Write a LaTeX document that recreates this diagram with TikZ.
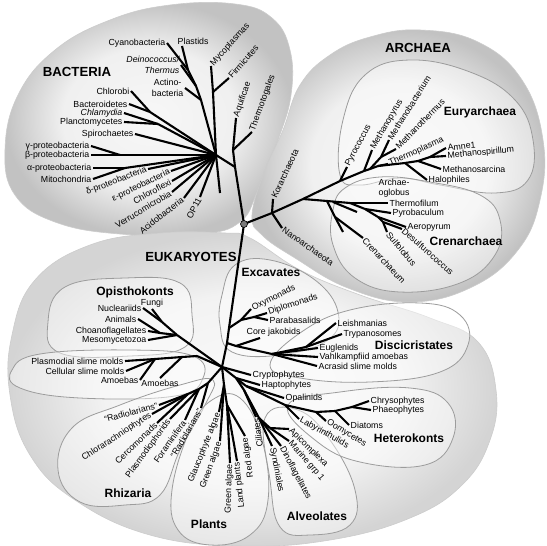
\documentclass[tikz,border=0pt]{standalone}
\usepackage{fontspec}
\setmainfont{Liberation Sans}
\usetikzlibrary{positioning}
\definecolor{Rim}{HTML}{9C9C9C}
\definecolor{Dot}{HTML}{7A7A7A}
\pgfdeclareradialshading{domshade}{\pgfpoint{0bp}{0bp}}{color(0bp)=(black!3); color(15bp)=(black!6); color(25bp)=(black!24); color(50bp)=(black!24)}
\pgfdeclareradialshading{eukshade}{\pgfpoint{0bp}{0bp}}{color(0bp)=(black!2); color(15bp)=(black!5); color(25bp)=(black!17); color(50bp)=(black!17)}
\tikzset{
  lbl/.style={font=\fontsize{8.8}{10.5}\selectfont,inner sep=1.5pt},
  ilbl/.style={lbl,font=\fontsize{8.8}{10.5}\selectfont\itshape},
  grp/.style={font=\fontsize{12}{13}\selectfont\bfseries,inner sep=0pt},
  dom/.style={font=\fontsize{13.2}{14}\selectfont\bfseries,inner sep=0pt},
  branch/.style={line width=2.1pt,line join=round},
  blob/.style={draw=black!20,line width=0.6pt,shading=domshade},
  subblob/.style={draw=Rim,line width=0.8pt,fill=white,fill opacity=0.45},
}
\begin{document}
\begin{tikzpicture}[x=1pt,y=-1pt]
  \useasboundingbox (0,0) rectangle (546,546);
  \fill[white] (0,0) rectangle (546,546);
  \shadedraw[blob] plot[smooth cycle,tension=0.7] coordinates {(5,150) (18,95) (55,50) (110,20) (170,5) (235,4) (272,18) (290,50) (291,95) (278,140) (258,190) (240,222) (200,234) (120,234) (55,222) (15,195)};
  \shadedraw[blob] plot[smooth cycle,tension=0.7] coordinates {(252,215) (265,170) (283,130) (300,85) (330,55) (370,37) (420,30) (478,42) (522,80) (543,140) (540,200) (518,250) (472,287) (410,302) (348,288) (295,258) (262,235)};
  \shadedraw[blob,shading=eukshade] plot[smooth cycle,tension=0.7] coordinates {(12,335) (35,280) (90,245) (160,233) (225,233) (250,238) (300,270) (360,295) (430,318) (478,342) (496,390) (490,440) (462,485) (410,518) (330,540) (240,546) (150,535) (75,500) (30,455) (10,395)};
  \foreach \pts in {
    {(340,175) (343,120) (365,75) (410,60) (470,72) (515,100) (533,140) (528,180) (495,193) (440,185) (400,178) (360,185)},
    {(333,210) (345,188) (380,177) (430,182) (480,195) (500,220) (495,255) (460,283) (400,292) (355,278) (333,245)},
    {(222,295) (235,265) (270,260) (315,280) (338,312) (328,340) (280,355) (232,352) (220,325)},
    {(270,365) (300,333) (350,310) (420,303) (460,315) (468,345) (440,372) (370,382) (300,378)},
    {(48,322) (65,287) (125,278) (180,283) (192,315) (185,347) (130,356) (60,353)},
    {(12,370) (40,354) (130,350) (193,356) (203,378) (175,396) (80,398) (20,388)},
    {(58,470) (72,428) (120,405) (180,385) (213,380) (205,405) (180,450) (160,495) (125,505) (80,502)},
    {(212,400) (240,398) (262,440) (268,500) (250,535) (210,545) (178,530) (172,490) (190,430)},
    {(265,418) (298,410) (330,440) (355,490) (350,525) (310,535) (280,527) (270,480)},
    {(288,405) (340,392) (410,388) (448,403) (453,438) (425,465) (360,462) (315,440)}}
    \draw[subblob] plot[smooth cycle,tension=0.7] coordinates \pts;

  \node[dom] at (77,72) {BACTERIA};
  \node[dom] at (418,48) {ARCHAEA};
  \node[dom] at (191,257) {EUKARYOTES};
  \foreach \px/\py/\txt in {480/112/Euryarchaea, 466/241/Crenarchaea, 271/272/Excavates,
    135/292/Opisthokonts, 414/345/Discicristates, 409/438/Heterokonts, 128/493/Rhizaria,
    209/524/Plants, 317/516/Alveolates}
    \node[grp] at (\px,\py) {\txt};

  \foreach \nm/\px/\py/\anc/\rot/\txt in {
    cyano/167/43/east/0/Cyanobacteria, myco/211/66/west/48/Mycoplasmas, firm/229/78/west/49/Firmicutes,
    aqui/236/118/west/71/Aquificae, thermot/252/132/west/70/Thermotogales,
    chlorobi/131/91/east/0/Chlorobi, bactero/129/104/east/0/Bacteroidetes,
    plancto/124/122/east/0/Planctomycetes, spiro/135/134/east/0/Spirochaetes,
    gamma/91/146/east/0/γ-proteobacteria, beta/91/155/east/0/β-proteobacteria,
    alpha/93/168/east/0/α-proteobacteria, mito/93/179/east/0/Mitochondria,
    delta/148/169/east/21/δ-proteobacteria, eps/171/171/east/26/ε-proteobacteria,
    chlflex/172/181/east/28/Chloroflexi, verru/172/192/east/31/Verrucomicrobia,
    acido/184/198/east/38/Acidobacteria, op/200/197/east/62/OP11,
    kor/273/199/west/65/Korarchaeota, nano/282/228/west/-35/Nanoarchaeota,
    pyro/347/167/west/62/Pyrococcus, metpyr/372/150/west/60/Methanopyrus,
    metbac/389/140/west/58/Methanobacterium, metthe/396/149/west/46/Methanothermus,
    thermop/388/164/west/24/Thermoplasma, amne/446/148/west/6/Amne1,
    metspi/446/156/west/5/Methanospirillum, metsar/441/169/west/0/Methanosarcina,
    halo/427/180/west/0/Halophiles, thermof/388/203/west/0/Thermofilum,
    pyrob/391/213/west/0/Pyrobaculum, aero/406/227/west/0/Aeropyrum,
    desulfo/402/229/west/-41/Desulfurococcus, sulfo/387/232/west/-50/Sulfolobus,
    cren/363/238/west/-47/Crenarchaeum,
    oxy/251/309/west/26/Oxymonads, diplo/267/313/west/18/Diplomonads, para/268/320/west/0/Parabasalids,
    leish/336/323/west/0/Leishmanias, trypa/342/334/west/0/Trypanosomes, eugl/318/348/west/0/Euglenids,
    vahl/318/357/west/0/Vahlkampfiid amoebas, acras/317/366/west/0/Acrasid slime molds,
    nucl/143/308/east/0/Nucleariids, anim/138/319/east/0/Animals,
    choano/148/331/east/0/Choanoflagellates, meso/148/340/east/0/Mesomycetozoa,
    plasmo/125/361/east/0/Plasmodial slime molds, cellu/126/371/east/0/Cellular slime molds,
    amoebL/140/380/east/0/Amoebas,
    chlorar/152/414/east/33/Chlorarachniophytes, cerco/157/423/east/44/Cercomonads,
    plasmod/170/419/east/54/Plasmodiophorids, foram/185/420/east/55/Foraminifera,
    glauco/219/412/east/68/Glaucophyte algae, greenA/220/441/east/70/Green algae,
    greenB/230/463/east/88/Green algae, land/237/461/east/96/Land plants,
    red/245/436/east/98/Red algae, cili/256/417/east/97/Ciliates,
    synd/272/446/west/-79/Syndiniales, dino/281/446/west/-62/Dinoflagellates,
    marine/289/441/west/-49/Marine grp 1, apic/289/429/west/-44/Apicomplexa,
    laby/299/419/west/-29/Labyrinthulids, oomy/326/421/west/-31/Oomycetes,
    diat/349/425/west/0/Diatoms, chryso/369/401/west/0/Chrysophytes, phaeo/371/410/west/0/Phaeophytes,
    crypto/251/375/west/0/Cryptophytes, hapto/260/385/west/0/Haptophytes, opal/284/398/west/0/Opalinids}
    \node[lbl,anchor=\anc,rotate=\rot] (\nm) at (\px,\py) {\txt};
  \node[lbl,anchor=south west] (plast) at (176,46) {Plastids};
  \node[ilbl,anchor=east,align=right] (dein) at (181,65) {Deinococcus/\\Thermus};
  \node[lbl,anchor=east,align=center] (actino) at (185,88) {Actino-\\bacteria};
  \node[ilbl,anchor=east] (chlamy) at (124,113) {Chlamydia};
  \node[lbl,anchor=north west,align=left] (archaeo) at (377,177) {Archae-\\oglobus};
  \node[lbl,anchor=south west] (jakob) at (245,338) {Core jakobids};
  \node[lbl,anchor=south] (fungi) at (152,309) {Fungi};
  \node[lbl,anchor=north] (amoebR) at (160,378) {Amoebas};
  \node[lbl,anchor=east,rotate=15] (radL) at (159,405) {“Radiolarians”};
  \node[lbl,anchor=east,rotate=60] (radR) at (201,408) {“Radiolarians”};

  \foreach \nm/\px/\py in {r/244/224, b1/235/167, b2/233/150, h/216/155, j1/188/70, j2/196/86, j3/201/100,
    m/213/92, cb/150/112, cp/158/124, g/120/155, am/125/168, u0/220/193,
    k/272/213, a2/303/199, e1/340/181, e2/364/171, e2b/370/169, e3a/381/157, e3/378/166,
    e5/405/163, e6/418/161, e7/430/157, c1/327/201, c2/350/203, c3/365/209, c4/378/217, c5/383/222,
    d1/335/217, u1/343/232, u2s/333/202, u2/357/212,
    x1/229/328, x2/227/343, e/222/367, ex1/241/320, ex2/254/317, d0/236/346, dd/272/354, lt/306/347,
    o1/177/335, o2/162/322, o3/160/333, a1/155/359, a2x/182/357, a3/197/356,
    rz0/208/383, rz2/199/389, rz1/188/394, p0/224/385, p1/227/405,
    f1/236/378, f2/246/386, ht0/285/405, ht1/316/412, ht2/335/411, ht3/352/407,
    al0/244/390, al1/259/418, al2/270/428}
    \coordinate (\nm) at (\px,\py);

  \foreach \pa/\pb in {r/b1, b1/b2, b2/aqui.west, b2/thermot.west, b1/h, h/j3, j3/j2, j2/j1,
    j1/cyano.east, j2/dein.east, j3/actino.east, h/m, m/myco.west, m/firm.west,
    h/cb, cb/chlorobi.east, cb/bactero.east, h/cp, cp/chlamy.east, cp/plancto.east, h/spiro.east,
    h/g, g/gamma.east, g/beta.east, h/am, am/alpha.east, am/mito.east,
    h/delta.east, h/eps.east, h/chlflex.east, h/verru.east, h/acido.east, h/op.east, h/u0,
    r/k, k/kor.west, k/nano.west, k/a2, a2/e1, e1/e2, e2/e2b, e2b/e3, e3/e5, e5/e6, e6/e7,
    e1/pyro.west, e2/metpyr.west, e2b/e3a, e3a/metbac.west, e3a/metthe.west, e3/thermop.west,
    e5/halo.west, e6/metsar.west, e7/amne.west, e7/metspi.west,
    a2/c1, c1/c2, c2/thermof.west, c2/c3, c3/pyrob.west, c3/c4, c4/aero.west, c4/c5,
    c5/desulfo.west, c5/sulfo.west, c1/d1, d1/u1, d1/cren.west, u2s/u2,
    r/x1, x1/x2, x2/e, x1/ex1, ex1/oxy.west, ex1/ex2, ex2/diplo.west, ex2/para.west,
    x2/d0, d0/dd, dd/lt, lt/leish.west, lt/trypa.west, dd/eugl.west, dd/vahl.west, dd/acras.west,
    e/o1, o1/o2, o2/fungi.south, o2/nucl.east, o1/o3, o3/anim.east, o3/choano.east, o1/meso.east,
    e/a3, a3/a2x, a2x/amoebR.north, a2x/a1, a1/plasmo.east, a1/cellu.east, a1/amoebL.east,
    e/rz0, rz0/radR.east, rz0/rz2, rz2/foram.east, rz2/plasmod.east, rz2/rz1,
    rz1/cerco.east, rz1/chlorar.east, rz1/radL.east,
    e/p0, p0/glauco.east, p0/greenA.east, p0/p1, p1/greenB.east, p1/land.east, p1/red.east,
    e/crypto.west, e/f1, f1/hapto.west, f1/f2, f2/opal.west, f2/ht0, ht0/ht1, ht1/ht2, ht2/ht3,
    ht0/laby.west, ht1/oomy.west, ht2/diat.west, ht3/chryso.west, ht3/phaeo.west,
    f1/al0, al0/cili.east, al0/al1, al1/synd.west, al1/dino.west, al1/al2, al2/marine.west, al2/apic.west}
    \draw[branch] (\pa) -- (\pb);
  \draw[branch] (j1) -- ([xshift=6pt]plast.south west);
  \draw[branch] (d0) -- ([xshift=15pt]jakob.south west);
  \node[circle,draw,fill=Dot,inner sep=0pt,minimum size=7pt,line width=0.6pt] (root) at (r) {};
\end{tikzpicture}
\end{document}
